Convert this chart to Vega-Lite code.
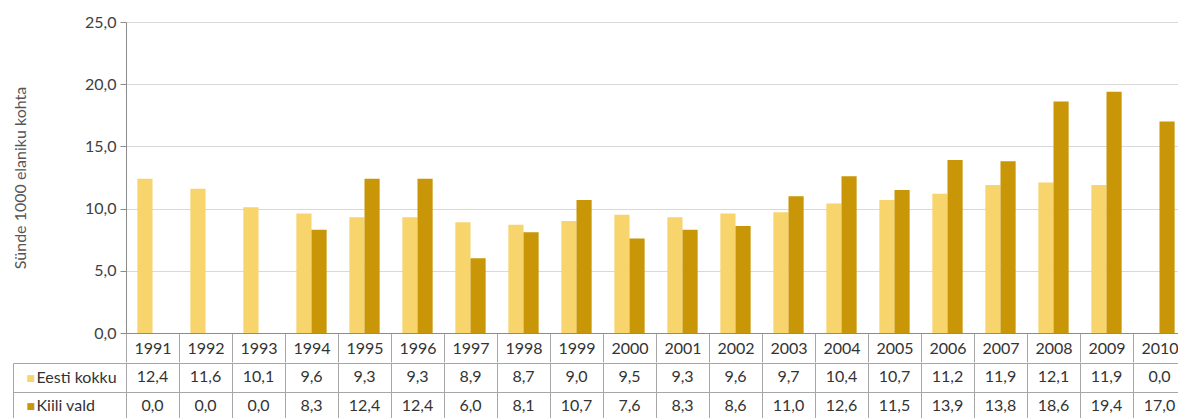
{
  "$schema": "https://vega.github.io/schema/vega-lite/v6.json",
  "padding": {"left": 12, "top": 14, "right": 0, "bottom": 0},
  "spacing": -9,
  "config": {
    "view": {"stroke": null},
    "locale": {"number": {"decimal": ",", "thousands": " ", "grouping": [3], "currency": ["", " €"]}},
    "axis": {"labelFont": "Lato", "titleFont": "Lato"},
    "text": {"font": "Lato"}
  },
  "data": {"values": [
    {"year": "1991", "series": "Eesti kokku", "value": 12.4},
    {"year": "1992", "series": "Eesti kokku", "value": 11.6},
    {"year": "1993", "series": "Eesti kokku", "value": 10.1},
    {"year": "1994", "series": "Eesti kokku", "value": 9.6},
    {"year": "1995", "series": "Eesti kokku", "value": 9.3},
    {"year": "1996", "series": "Eesti kokku", "value": 9.3},
    {"year": "1997", "series": "Eesti kokku", "value": 8.9},
    {"year": "1998", "series": "Eesti kokku", "value": 8.7},
    {"year": "1999", "series": "Eesti kokku", "value": 9.0},
    {"year": "2000", "series": "Eesti kokku", "value": 9.5},
    {"year": "2001", "series": "Eesti kokku", "value": 9.3},
    {"year": "2002", "series": "Eesti kokku", "value": 9.6},
    {"year": "2003", "series": "Eesti kokku", "value": 9.7},
    {"year": "2004", "series": "Eesti kokku", "value": 10.4},
    {"year": "2005", "series": "Eesti kokku", "value": 10.7},
    {"year": "2006", "series": "Eesti kokku", "value": 11.2},
    {"year": "2007", "series": "Eesti kokku", "value": 11.9},
    {"year": "2008", "series": "Eesti kokku", "value": 12.1},
    {"year": "2009", "series": "Eesti kokku", "value": 11.9},
    {"year": "2010", "series": "Eesti kokku", "value": 0.0},
    {"year": "1991", "series": "Kiili vald", "value": 0.0},
    {"year": "1992", "series": "Kiili vald", "value": 0.0},
    {"year": "1993", "series": "Kiili vald", "value": 0.0},
    {"year": "1994", "series": "Kiili vald", "value": 8.3},
    {"year": "1995", "series": "Kiili vald", "value": 12.4},
    {"year": "1996", "series": "Kiili vald", "value": 12.4},
    {"year": "1997", "series": "Kiili vald", "value": 6.0},
    {"year": "1998", "series": "Kiili vald", "value": 8.1},
    {"year": "1999", "series": "Kiili vald", "value": 10.7},
    {"year": "2000", "series": "Kiili vald", "value": 7.6},
    {"year": "2001", "series": "Kiili vald", "value": 8.3},
    {"year": "2002", "series": "Kiili vald", "value": 8.6},
    {"year": "2003", "series": "Kiili vald", "value": 11.0},
    {"year": "2004", "series": "Kiili vald", "value": 12.6},
    {"year": "2005", "series": "Kiili vald", "value": 11.5},
    {"year": "2006", "series": "Kiili vald", "value": 13.9},
    {"year": "2007", "series": "Kiili vald", "value": 13.8},
    {"year": "2008", "series": "Kiili vald", "value": 18.6},
    {"year": "2009", "series": "Kiili vald", "value": 19.4},
    {"year": "2010", "series": "Kiili vald", "value": 17.0}
  ]},
  "vconcat": [
    {
      "width": 1060,
      "height": 311,
      "mark": {"type": "bar"},
      "encoding": {
        "x": {
          "field": "year", "type": "ordinal",
          "scale": {"paddingInner": 0, "paddingOuter": 0},
          "axis": {
            "title": null,
            "domainColor": "#8c8c8c",
            "tickBand": "extent",
            "tickSize": 29,
            "tickColor": "#a6a6a6",
            "labelAngle": 0,
            "labelBaseline": "middle",
            "labelPadding": -14,
            "labelFontSize": 16,
            "labelColor": "#333333"
          }
        },
        "xOffset": {
          "field": "series", "type": "nominal",
          "scale": {"domain": ["Eesti kokku", "Kiili vald"], "paddingInner": 0, "paddingOuter": 0.75}
        },
        "y": {
          "field": "value", "type": "quantitative",
          "scale": {"domain": [0, 25]},
          "axis": {
            "values": [0, 5, 10, 15, 20, 25],
            "format": ".1f",
            "title": "Sünde 1000 elaniku kohta",
            "titleFontSize": 16,
            "titleFontWeight": "normal",
            "titleColor": "#555555",
            "titlePadding": 56,
            "grid": true,
            "gridColor": "#d9d9d9",
            "domainColor": "#8c8c8c",
            "tickColor": "#8c8c8c",
            "tickSize": 6,
            "labelPadding": 4,
            "labelFontSize": 16,
            "labelColor": "#404040"
          }
        },
        "color": {
          "field": "series", "type": "nominal",
          "scale": {"domain": ["Eesti kokku", "Kiili vald"], "range": ["#F8D46C", "#C89606"]},
          "legend": null
        }
      }
    },
    {
      "width": 1060,
      "height": 57,
      "layer": [
        {
          "mark": {"type": "text", "fontSize": 16, "color": "#333333", "baseline": "middle"},
          "encoding": {
            "x": {
              "field": "year", "type": "ordinal",
              "scale": {"paddingInner": 0, "paddingOuter": 0},
              "axis": {
                "title": null, "labels": false, "ticks": false, "domain": false,
                "grid": true, "tickBand": "extent", "gridColor": "#a6a6a6"
              }
            },
            "y": {
              "field": "series", "type": "nominal",
              "scale": {"domain": ["Eesti kokku", "Kiili vald"]},
              "axis": {
                "orient": "left",
                "title": null,
                "grid": true, "gridColor": "#a6a6a6",
                "tickBand": "extent",
                "tickSize": 113,
                "tickColor": "#a6a6a6",
                "domainColor": "#a6a6a6",
                "labelAlign": "left",
                "labelBaseline": "middle",
                "labelPadding": -23,
                "labelFontSize": 16,
                "labelColor": "#333333"
              }
            },
            "text": {"field": "value", "type": "quantitative", "format": ".1f"}
          }
        },
        {
          "mark": {"type": "text", "opacity": 0},
          "encoding": {
            "y": {
              "field": "series", "type": "nominal",
              "scale": {"domain": ["Eesti kokku", "Kiili vald"]},
              "axis": {
                "orient": "left",
                "title": null,
                "offset": 113,
                "grid": false,
                "ticks": false,
                "domain": true,
                "domainColor": "#a6a6a6",
                "labelExpr": "'■'",
                "labelFont": "DejaVu Sans",
                "labelFontSize": 9,
                "labelAlign": "left",
                "labelBaseline": "middle",
                "labelPadding": -13,
                "labelColor": {"condition": {"test": "datum.value === 'Eesti kokku'", "value": "#F8D46C"}, "value": "#C89606"}
              }
            },
            "text": {"value": "."}
          }
        }
      ],
      "resolve": {"scale": {"y": "independent"}, "axis": {"y": "independent"}}
    }
  ]
}
